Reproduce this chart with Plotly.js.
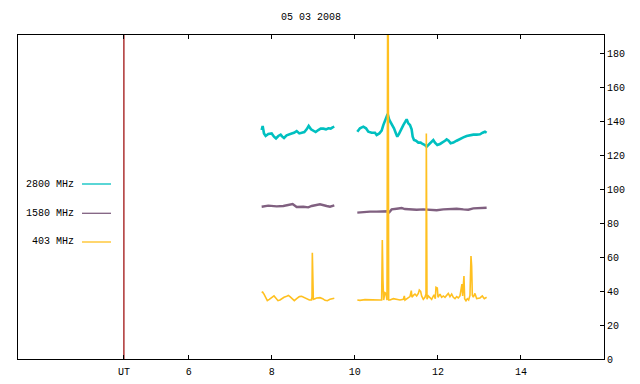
<!DOCTYPE html>
<html>
<head>
<meta charset="utf-8">
<script src="https://cdn.plot.ly/plotly-3.0.1.min.js"></script>
<style>html,body{margin:0;padding:0;background:#fff;}#chart{width:640px;height:384px;}</style>
</head>
<body>
<div id="chart"></div>
<script>
// ---- data (hours UT, values) ----
const utMark = 4.44;
const xTickVals = [utMark, 6, 8, 10, 12, 14];
const xTickText = ["UT", "6", "8", "10", "12", "14"];
const yTickVals = [0, 20, 40, 60, 80, 100, 120, 140, 160, 180];

const seriesNames = ["2800 MHz", "1580 MHz", "403 MHz"];

const x2800 = [7.757,7.781,7.813,7.853,7.917,7.998,8.054,8.102,8.158,8.214,8.254,8.295,8.359,8.423,8.479,8.535,8.600,8.664,8.720,8.784,8.840,8.889,8.945,9.001,9.057,9.121,9.178,9.242,9.306,9.362,9.418,9.466,9.506,
  null,
  10.060,10.124,10.205,10.269,10.325,10.405,10.486,10.526,10.590,10.646,10.686,10.726,10.767,10.791,10.831,10.887,10.943,10.991,11.023,11.064,11.112,11.168,11.216,11.248,11.288,11.328,11.368,11.393,11.425,11.473,11.529,11.585,11.633,11.689,11.730,11.770,11.810,11.850,11.890,11.930,11.986,12.051,12.115,12.171,12.211,12.259,12.307,12.372,12.452,12.532,12.613,12.693,12.773,12.853,12.934,13.014,13.078,13.134,13.174];
const y2800 = [134.7,137.1,132.7,131.2,132.4,132.7,130.8,129.8,131.2,132.0,130.8,130.0,131.6,132.4,132.7,133.1,134.1,132.7,133.1,133.5,135.1,137.1,135.1,134.1,133.5,134.7,135.5,135.5,135.1,135.7,135.5,136.3,136.7,
  null,
  133.7,135.7,136.7,135.7,133.7,133.1,133.1,131.8,132.7,134.3,137.6,140.2,142.5,144.1,140.6,138.2,135.7,132.7,130.8,132.4,135.1,137.6,139.6,141.0,138.6,137.6,135.1,130.8,128.8,128.4,127.3,127.3,126.5,125.9,124.9,125.9,127.3,128.4,128.8,127.3,125.9,126.5,127.3,128.4,129.2,128.4,126.9,127.3,128.4,129.6,130.4,131.2,131.8,132.0,132.0,132.2,133.1,133.7,133.1];

const x1580 = [7.757,7.917,8.118,8.279,8.503,8.600,8.760,8.880,8.961,9.161,9.322,9.402,9.506,
  null,
  10.060,10.205,10.365,10.526,10.686,10.783,10.831,10.887,11.007,11.128,11.208,11.328,11.489,11.649,11.810,11.970,12.131,12.291,12.452,12.613,12.733,12.853,13.014,13.174];
const y1580 = [89.6,90.2,89.8,90.0,91.2,89.4,89.6,89.2,90.0,91.0,90.0,89.6,90.4,
  null,
  86.1,86.5,86.7,86.7,86.9,86.9,86.3,88.0,88.4,88.8,88.2,88.0,87.8,88.0,87.8,87.5,88.0,88.2,88.4,88.0,87.8,88.6,88.8,89.0];

const x403 = [7.757,7.781,7.813,7.853,7.893,7.941,7.998,8.054,8.102,8.150,8.198,8.246,8.295,8.343,8.399,8.439,8.495,8.543,8.600,8.664,8.720,8.776,8.840,8.905,8.953,8.969,8.977,8.993,9.001,9.041,9.081,9.161,9.226,9.282,9.338,9.402,9.450,9.506,
  null,
  10.060,10.124,10.245,10.365,10.486,10.606,10.646,10.662,10.678,10.694,10.726,10.750,10.775,10.783,10.799,10.815,10.847,10.927,11.007,11.088,11.168,11.192,11.208,11.288,11.328,11.360,11.376,11.409,11.449,11.489,11.529,11.553,11.585,11.609,11.649,11.689,11.714,11.722,11.738,11.770,11.810,11.850,11.906,11.938,11.954,11.986,12.003,12.051,12.091,12.131,12.171,12.211,12.251,12.291,12.332,12.372,12.412,12.452,12.492,12.532,12.580,12.596,12.628,12.645,12.677,12.709,12.741,12.773,12.797,12.813,12.829,12.853,12.893,12.934,13.014,13.070,13.118,13.174];
const y403 = [39.0,39.4,38.2,35.7,34.3,35.1,36.3,37.1,35.7,34.3,34.7,35.7,36.3,36.7,37.4,36.7,35.1,34.3,35.5,36.7,36.9,36.3,35.5,34.7,34.7,36.3,62.5,48.4,35.1,35.5,35.9,36.1,35.5,34.5,34.3,35.1,35.3,35.7,
  null,
  34.7,34.5,34.9,34.7,34.7,34.7,34.7,70.0,46.1,34.7,39.0,38.6,34.7,300,300,34.7,34.7,35.5,35.1,34.7,35.1,37.1,34.7,35.9,36.7,40.2,36.3,37.4,38.2,37.1,38.6,40.6,39.8,37.1,35.1,36.3,38.2,132.7,35.1,37.1,35.9,35.1,37.8,35.5,42.2,41.8,36.3,38.2,36.3,37.1,36.3,37.8,38.6,36.7,38.2,36.3,35.5,36.7,35.9,37.1,44.1,37.1,48.8,35.5,34.3,35.5,34.7,37.4,60.6,54.7,37.6,36.3,38.6,35.5,35.9,37.1,35.5,36.3];

const colors = ["#00c0c0", "#806080", "#ffc020"];

// ---- plot ----
const L = 18, R = 604, T = 35, B = 359;
const W = R - L, H = B - T;
const px = v => (v - L) / W;
const py = v => (B - v) / H;

const font = {family: "Liberation Mono, DejaVu Sans Mono, monospace", size: 10, color: "#000"};

const traces = [
  {x: x2800, y: y2800, name: seriesNames[0], type: "scatter", mode: "lines", line: {color: colors[0], width: 2.6}, connectgaps: false},
  {x: x1580, y: y1580, name: seriesNames[1], type: "scatter", mode: "lines", line: {color: colors[1], width: 2.4}, connectgaps: false},
  {x: x403, y: y403, name: seriesNames[2], type: "scatter", mode: "lines", line: {color: colors[2], width: 1.6}, connectgaps: false}
];

const legendY = [184, 213.3, 242];
const annotations = seriesNames.map((n, i) => ({
  text: n, xref: "paper", yref: "paper", x: px(76), y: py(legendY[i]),
  xanchor: "right", yanchor: "middle", showarrow: false, font: font
}));
annotations.push({
  text: "05 03 2008", xref: "paper", yref: "paper", x: 0.5, y: py(18),
  xanchor: "center", yanchor: "middle", showarrow: false, font: font
});

const shapes = seriesNames.map((n, i) => ({
  type: "line", xref: "paper", yref: "paper",
  x0: px(82), x1: px(111), y0: py(legendY[i]), y1: py(legendY[i]),
  line: {color: colors[i], width: 1.3}
}));
shapes.push({
  type: "line", xref: "x", yref: "paper", x0: utMark, x1: utMark, y0: 0, y1: 1,
  line: {color: "#990000", width: 1.2}, layer: "below"
});

const layout = {
  width: 640, height: 384,
  margin: {l: L, r: 640 - R, t: T, b: 384 - B, pad: 0},
  paper_bgcolor: "#fff", plot_bgcolor: "#fff",
  showlegend: false,
  font: font,
  xaxis: {
    range: [1.89, 16.0], tickmode: "array", tickvals: xTickVals, ticktext: xTickText,
    ticks: "inside", ticklen: 4, tickcolor: "#000", tickwidth: 1,
    showline: true, linecolor: "#000", linewidth: 1, mirror: "ticks",
    showgrid: false, zeroline: false, tickfont: font, ticklabelstandoff: 3
  },
  yaxis: {
    range: [0, 190.6], side: "right", tickmode: "array", tickvals: yTickVals,
    ticks: "inside", ticklen: 4, tickcolor: "#000", tickwidth: 1,
    showline: true, linecolor: "#000", linewidth: 1, mirror: true,
    showgrid: false, zeroline: false, tickfont: font
  },
  annotations: annotations,
  shapes: shapes
};

Plotly.newPlot("chart", traces, layout, {staticPlot: true, displayModeBar: false});
</script>
</body>
</html>
